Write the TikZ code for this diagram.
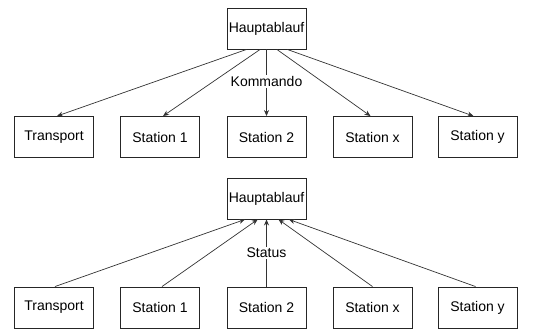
\documentclass[tikz,border=0pt]{standalone}
\usepackage{fontspec}
\setmainfont{Liberation Sans}
\usetikzlibrary{arrows.meta,calc}
\begin{document}
\begin{tikzpicture}[x=1pt,y=-1pt,
  box/.style={draw=black!85,line width=0.9pt,minimum width=79pt,minimum height=41pt,inner sep=0pt,font=\fontsize{14}{16}\selectfont},
  conn/.style={draw=black!80,line width=0.7pt,-{Stealth[length=6pt,width=5pt]}},
  lbl/.style={fill=white,inner sep=1pt,font=\fontsize{14}{16}\selectfont}]
\useasboundingbox (0,0) rectangle (537,331);
% top diagram
\node[box] (h1) at (266.5,28.5) {Hauptablauf};
\node[box] (t1) at (54,137) {Transport};
\node[box] (a1) at (160,137) {Station 1};
\node[box] (b1) at (266.5,137) {Station 2};
\node[box] (x1) at (372.5,137) {Station x};
\node[box] (y1) at (477.5,137) {Station y};
\draw[conn] ($(h1.south west)!0.25!(h1.south east)$) -- ($(t1.north)+(3,0)$);
\draw[conn] ($(h1.south west)!0.42!(h1.south east)$) -- ($(a1.north)+(3,0)$);
\draw[conn] (h1.south) -- node[lbl,pos=0.48] (k1) {Kommando} (b1.north);
\draw[conn] ($(h1.south west)!0.63!(h1.south east)$) -- ($(x1.north)+(-2,0)$);
\draw[conn] ($(h1.south west)!0.76!(h1.south east)$) -- ($(y1.north)+(-4,0)$);
% bottom diagram
\node[box] (h2) at (266.5,198.5) {Hauptablauf};
\node[box] (t2) at (54,307.5) {Transport};
\node[box] (a2) at (160,307.5) {Station 1};
\node[box] (b2) at (266.5,307.5) {Station 2};
\node[box] (x2) at (372.5,307.5) {Station x};
\node[box] (y2) at (477.5,307.5) {Station y};
\draw[conn] ($(t2.north)+(1,0)$) -- ($(h2.south west)!0.23!(h2.south east)$);
\draw[conn] ($(a2.north)+(2,0)$) -- ($(h2.south west)!0.39!(h2.south east)$);
\draw[conn] (b2.north) -- node[lbl,pos=0.5] (s2) {Status} (h2.south);
\draw[conn] ($(x2.north)+(0,0)$) -- ($(h2.south west)!0.65!(h2.south east)$);
\draw[conn] ($(y2.north)+(-2,0)$) -- ($(h2.south west)!0.78!(h2.south east)$);
\end{tikzpicture}
\end{document}
